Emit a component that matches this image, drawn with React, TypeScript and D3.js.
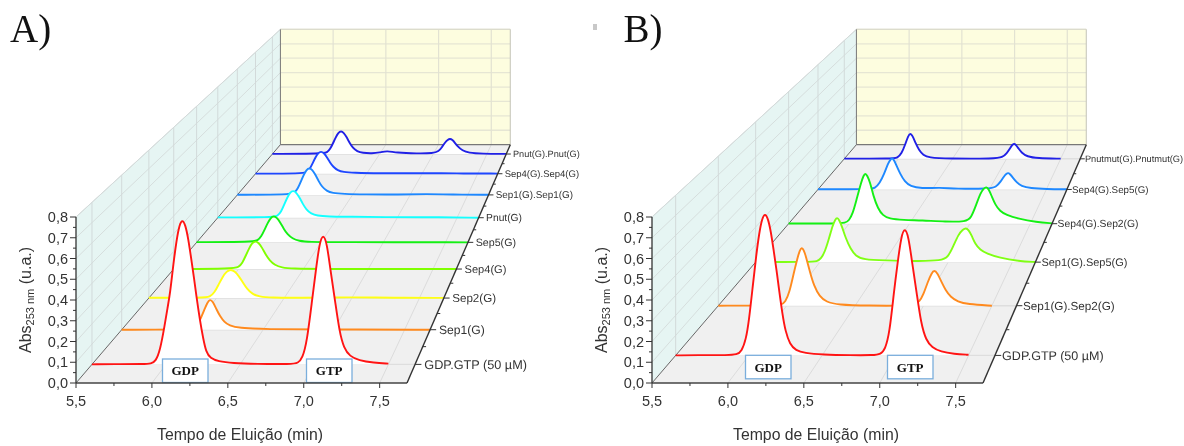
import React from 'react';
import * as d3 from 'd3';

type Pt = [number, number];
type Series = { name: string; color: string; points: Pt[] };

// values: [time in min, absorbance above the trace baseline]
const gdpGtpA: Pt[] = [[5.5,0],[5.7,.002],[5.85,.001],[5.9,.004],[5.93,.015],[5.96,.07],[5.99,.19],[6.01,.28],[6.027,.35],[6.05,.5],[6.07,.61],[6.09,.69],[6.11,.715],[6.13,.69],[6.15,.62],[6.17,.52],[6.19,.42],[6.202,.35],[6.23,.21],[6.25,.13],[6.27,.06],[6.3,.03],[6.35,.015],[6.45,.006],[6.6,.002],[6.85,.001],[6.89,.006],[6.92,.03],[6.95,.11],[6.985,.316],[7.01,.46],[7.035,.6],[7.06,.645],[7.085,.6],[7.11,.46],[7.14,.316],[7.17,.16],[7.2,.08],[7.24,.04],[7.3,.02],[7.4,.008],[7.5,.004]];
const sep1A: Pt[] = [[5.5,0],[5.95,.001],[6,.004],[6.03,.018],[6.06,.06],[6.085,.105],[6.105,.14],[6.124,.158],[6.145,.145],[6.17,.105],[6.195,.07],[6.225,.04],[6.26,.022],[6.33,.009],[6.5,.002],[7,.001],[7.68,0]];
const sep2A: Pt[] = [[5.5,.002],[5.91,.001],[5.95,.006],[5.985,.03],[6.015,.072],[6.045,.115],[6.075,.145],[6.105,.155],[6.135,.145],[6.165,.119],[6.195,.084],[6.225,.05],[6.265,.021],[6.315,.008],[6.4,.002],[6.6,.001],[7,.005],[7.3,.001],[7.68,.001]];
const sep4A: Pt[] = [[5.5,0],[5.96,.002],[6,.01],[6.03,.035],[6.055,.075],[6.08,.115],[6.105,.148],[6.13,.158],[6.155,.148],[6.18,.122],[6.21,.08],[6.24,.048],[6.28,.022],[6.33,.008],[6.42,.002],[6.6,0],[7.68,0]];
const sep5A: Pt[] = [[5.5,.001],[5.95,.002],[5.99,.01],[6.02,.035],[6.045,.073],[6.07,.113],[6.095,.145],[6.12,.155],[6.145,.145],[6.17,.12],[6.2,.079],[6.23,.047],[6.27,.022],[6.32,.008],[6.41,.002],[6.6,.001],[7.68,0]];
const pnutA: Pt[] = [[5.5,.002],[5.96,.002],[6,.011],[6.03,.037],[6.055,.08],[6.08,.122],[6.105,.155],[6.13,.166],[6.155,.155],[6.18,.128],[6.21,.085],[6.24,.05],[6.28,.024],[6.33,.012],[6.42,.007],[6.6,.006],[6.9,.003],[7.2,.004],[7.68,0]];
const sep1Sep1A: Pt[] = [[5.5,.001],[5.955,.002],[5.995,.012],[6.025,.04],[6.05,.083],[6.075,.126],[6.1,.16],[6.125,.171],[6.15,.16],[6.175,.132],[6.205,.088],[6.235,.052],[6.275,.025],[6.325,.012],[6.42,.006],[6.6,.003],[6.9,.002],[7.15,.006],[7.35,.002],[7.68,.001]];
const sep4Sep4A: Pt[] = [[5.5,.001],[5.92,.001],[5.96,.009],[5.99,.032],[6.015,.07],[6.04,.108],[6.065,.137],[6.09,.147],[6.115,.137],[6.14,.113],[6.17,.075],[6.2,.045],[6.24,.022],[6.29,.011],[6.38,.006],[6.6,.002],[7,.004],[7.3,.002],[7.68,.001]];
const pnutPnutA: Pt[] = [[5.5,.001],[5.97,.002],[6.01,.01],[6.04,.035],[6.065,.073],[6.09,.113],[6.115,.146],[6.14,.157],[6.165,.146],[6.19,.118],[6.22,.076],[6.25,.042],[6.29,.018],[6.34,.007],[6.43,.004],[6.5,.01],[6.57,.022],[6.65,.009],[6.85,.003],[7,.005],[7.05,.018],[7.08,.045],[7.11,.08],[7.135,.098],[7.156,.105],[7.178,.097],[7.2,.078],[7.23,.05],[7.27,.024],[7.33,.008],[7.45,.002],[7.68,.001]];

const gdpGtpB: Pt[] = [[5.5,0],[5.7,.002],[5.85,.001],[5.92,.004],[5.95,.02],[5.98,.08],[6,.17],[6.027,.35],[6.05,.5],[6.07,.61],[6.09,.685],[6.11,.71],[6.13,.685],[6.15,.62],[6.17,.52],[6.19,.42],[6.202,.35],[6.23,.2],[6.25,.12],[6.28,.055],[6.32,.025],[6.38,.012],[6.5,.004],[6.7,.001],[6.85,.001],[6.9,.006],[6.93,.03],[6.96,.11],[6.99,.316],[7.015,.46],[7.04,.595],[7.064,.64],[7.09,.595],[7.115,.46],[7.145,.316],[7.175,.16],[7.21,.075],[7.25,.04],[7.31,.018],[7.4,.007],[7.5,.003]];
const sep1Sep2B: Pt[] = [[5.5,0],[5.9,.001],[5.96,.004],[5.99,.02],[6.02,.07],[6.05,.17],[6.08,.258],[6.095,.296],[6.11,.312],[6.125,.298],[6.14,.266],[6.17,.18],[6.2,.105],[6.24,.05],[6.29,.02],[6.37,.005],[6.6,0],[6.85,0],[6.93,.004],[6.97,.02],[7,.06],[7.03,.125],[7.06,.176],[7.08,.19],[7.1,.176],[7.13,.13],[7.16,.085],[7.2,.045],[7.25,.022],[7.32,.008],[7.5,0]];
const sep1Sep5B: Pt[] = [[5.5,.001],[5.92,.001],[5.98,.004],[6.01,.02],[6.04,.06],[6.07,.13],[6.1,.21],[6.12,.243],[6.135,.255],[6.15,.243],[6.175,.2],[6.2,.14],[6.24,.075],[6.28,.035],[6.34,.015],[6.5,.01],[6.75,.006],[6.95,.008],[7,.03],[7.04,.09],[7.08,.158],[7.115,.186],[7.14,.196],[7.16,.183],[7.185,.15],[7.21,.105],[7.25,.07],[7.3,.05],[7.4,.025],[7.55,.006],[7.68,.001]];
const sep4Sep2B: Pt[] = [[5.5,.001],[5.9,.001],[5.97,.004],[6,.02],[6.03,.06],[6.06,.14],[6.1,.25],[6.12,.292],[6.135,.306],[6.15,.292],[6.175,.25],[6.2,.17],[6.24,.09],[6.28,.05],[6.33,.03],[6.45,.022],[6.6,.02],[6.8,.012],[6.97,.012],[7.01,.035],[7.05,.11],[7.09,.19],[7.115,.213],[7.136,.223],[7.155,.21],[7.18,.168],[7.21,.115],[7.25,.075],[7.3,.053],[7.4,.03],[7.55,.01],[7.68,.002]];
const sep4Sep5B: Pt[] = [[5.5,.001],[5.95,.001],[6,.008],[6.04,.04],[6.08,.1],[6.115,.17],[6.135,.192],[6.15,.202],[6.165,.19],[6.19,.15],[6.22,.1],[6.26,.05],[6.31,.02],[6.4,.006],[6.57,.013],[6.7,.004],[7,.004],[7.06,.015],[7.1,.05],[7.13,.085],[7.15,.1],[7.165,.107],[7.18,.1],[7.205,.078],[7.24,.045],[7.28,.022],[7.36,.008],[7.5,.002],[7.68,.001]];
const pnutmutB: Pt[] = [[5.5,.001],[5.95,.001],[5.99,.006],[6.03,.035],[6.065,.1],[6.09,.155],[6.11,.174],[6.13,.158],[6.16,.105],[6.19,.06],[6.23,.025],[6.28,.008],[6.45,.001],[6.9,.001],[6.96,.01],[7,.035],[7.035,.075],[7.055,.096],[7.07,.103],[7.085,.096],[7.11,.07],[7.14,.04],[7.19,.015],[7.28,.004],[7.5,.001]];

const seriesA: Series[] = [
  { name: 'GDP.GTP (50 µM)', color: '#ff1414', points: gdpGtpA },
  { name: 'Sep1(G)', color: '#ff8a1e', points: sep1A },
  { name: 'Sep2(G)', color: '#ffff14', points: sep2A },
  { name: 'Sep4(G)', color: '#80ff00', points: sep4A },
  { name: 'Sep5(G)', color: '#14f014', points: sep5A },
  { name: 'Pnut(G)', color: '#14ffff', points: pnutA },
  { name: 'Sep1(G).Sep1(G)', color: '#1e88ff', points: sep1Sep1A },
  { name: 'Sep4(G).Sep4(G)', color: '#1e46ff', points: sep4Sep4A },
  { name: 'Pnut(G).Pnut(G)', color: '#2020e6', points: pnutPnutA },
];
const seriesB: Series[] = [
  { name: 'GDP.GTP (50 µM)', color: '#ff1414', points: gdpGtpB },
  { name: 'Sep1(G).Sep2(G)', color: '#ff8a1e', points: sep1Sep2B },
  { name: 'Sep1(G).Sep5(G)', color: '#80ff14', points: sep1Sep5B },
  { name: 'Sep4(G).Sep2(G)', color: '#14f014', points: sep4Sep2B },
  { name: 'Sep4(G).Sep5(G)', color: '#1e88ff', points: sep4Sep5B },
  { name: 'Pnutmut(G).Pnutmut(G)', color: '#2020e6', points: pnutmutB },
];

const xTicks = [5.5, 6, 6.5, 7, 7.5];
const xMinorTicks = [5.75, 6.25, 6.75, 7.25];
const yTicks = [0, 0.1, 0.2, 0.3, 0.4, 0.5, 0.6, 0.7, 0.8];
const yMinorTicks = [0.05, 0.15, 0.25, 0.35, 0.45, 0.55, 0.65, 0.75];

const TIME_MIN = 5.5;
const TIME_MAX = 7.68;
const ABS_MAX = 0.8;

const x = d3.scaleLinear().domain([TIME_MIN, TIME_MAX]).range([76, 407]);
const y = d3.scaleLinear().domain([0, ABS_MAX]).range([383, 217]);

// Origin-style 3D waterfall: everything shrinks towards one vanishing point with depth
const VX = 745;
const VY = -397;
const PERSP = 0.44;
const shrink = (d: number) => 1 / (1 + PERSP * d);
const px = (t: number, d: number) => VX + (x(t) - VX) * shrink(d);
const py = (v: number, d: number) => VY + (y(v) - VY) * shrink(d);
const pt = (t: number, v: number, d: number) => `${px(t, d)},${py(v, d)}`;

const comma = (v: number) => d3.format('.1f')(v).replace('.', ',');
const SANS = '"Liberation Sans", Arial, sans-serif';
const SERIF = '"Liberation Serif", "Times New Roman", serif';

const Seg = ({ a, b, stroke, w = 1 }: { a: [number, number, number]; b: [number, number, number]; stroke: string; w?: number }) => (
  <line x1={px(a[0], a[2])} y1={py(a[1], a[2])} x2={px(b[0], b[2])} y2={py(b[1], b[2])} stroke={stroke} strokeWidth={w} />
);

const Panel = ({ series, letter, letterX, dx, boxes, labelShift = 0, mark }: {
  series: Series[];
  letter: string;
  letterX: number;
  dx: number;
  boxes: { label: string; left: number; top: number }[];
  labelShift?: number;
  mark?: boolean;
}) => {
  const z = d3.scaleBand<string>().domain(series.map(s => s.name)).range([0, 1]);
  const depth = (name: string) => (z(name) as number) + z.bandwidth() / 2;
  const edges = d3.range(1, series.length).map(i => i / series.length);

  return (
    <g transform={`translate(${dx},0)`}>
      <text x={letterX} y={42} fontFamily={SERIF} fontSize={39} fill="#111">{letter}</text>
      {mark && <rect x={17} y={24} width={4} height={6} fill="#c8c8c8" />}

      {/* walls and floor */}
      <polygon fill="#e6f5f3" points={[pt(TIME_MIN, 0, 0), pt(TIME_MIN, ABS_MAX, 0), pt(TIME_MIN, ABS_MAX, 1), pt(TIME_MIN, 0, 1)].join(' ')} />
      <polygon fill="#fdfddf" points={[pt(TIME_MIN, 0, 1), pt(TIME_MIN, ABS_MAX, 1), pt(TIME_MAX, ABS_MAX, 1), pt(TIME_MAX, 0, 1)].join(' ')} />
      <polygon fill="#f0f0f0" points={[pt(TIME_MIN, 0, 0), pt(TIME_MAX, 0, 0), pt(TIME_MAX, 0, 1), pt(TIME_MIN, 0, 1)].join(' ')} />

      {yTicks.slice(1).map(v => (
        <g key={v}>
          <Seg a={[TIME_MIN, v, 0]} b={[TIME_MIN, v, 1]} stroke="#d6dedd" />
          <Seg a={[TIME_MIN, v, 1]} b={[TIME_MAX, v, 1]} stroke="#e6e6d4" w={1.3} />
        </g>
      ))}
      {series.map(s => (
        <g key={s.name}>
          <Seg a={[TIME_MIN, 0, depth(s.name)]} b={[TIME_MIN, ABS_MAX, depth(s.name)]} stroke="#d2dada" />
          <Seg a={[TIME_MIN, 0, depth(s.name)]} b={[TIME_MAX, 0, depth(s.name)]} stroke="#dedede" w={1.4} />
        </g>
      ))}
      {xTicks.slice(1).map(t => (
        <g key={t}>
          <Seg a={[t, 0, 0]} b={[t, 0, 1]} stroke="#dcdcdc" />
          <Seg a={[t, 0, 1]} b={[t, ABS_MAX, 1]} stroke="#e2e2d2" w={1.2} />
        </g>
      ))}
      <Seg a={[TIME_MIN, ABS_MAX, 0]} b={[TIME_MIN, ABS_MAX, 1]} stroke="#d4dada" />
      <Seg a={[TIME_MIN, ABS_MAX, 1]} b={[TIME_MAX, ABS_MAX, 1]} stroke="#dcdccc" w={1.2} />
      <Seg a={[TIME_MAX, ABS_MAX, 1]} b={[TIME_MAX, 0, 1]} stroke="#c4c4b8" />
      <Seg a={[TIME_MIN, 0, 1]} b={[TIME_MIN, ABS_MAX, 1]} stroke="#777" />
      <Seg a={[TIME_MIN, 0, 1]} b={[TIME_MAX, 0, 1]} stroke="#777" w={1.2} />
      <Seg a={[TIME_MIN, 0, 0]} b={[TIME_MIN, 0, 1]} stroke="#666" />

      {/* traces, back to front, each hiding what is behind it */}
      {[...series].reverse().map(s => {
        const d = depth(s.name);
        const area = d3.area<Pt>().x(p => px(p[0], d)).y0(py(0, d)).y1(p => py(p[1], d)).curve(d3.curveBasis);
        const line = d3.line<Pt>().x(p => px(p[0], d)).y(p => py(p[1], d)).curve(d3.curveBasis);
        return (
          <g key={s.name}>
            <path d={area(s.points) as string} fill="#fff" />
            <path d={line(s.points) as string} fill="none" stroke={s.color} strokeWidth={1.9} strokeLinejoin="round" />
          </g>
        );
      })}

      {boxes.map(b => (
        <g key={b.label}>
          <rect x={b.left} y={b.top} width={45.5} height={23.5} fill="#fff" stroke="#7aaedc" strokeWidth={1.3} />
          <text x={b.left + 22.7} y={b.top + 16.3} textAnchor="middle" fontFamily={SERIF} fontWeight="bold" fontSize={13} fill="#111">{b.label}</text>
        </g>
      ))}

      {/* axes */}
      <line x1={x(TIME_MIN)} x2={x(TIME_MAX)} y1={y(0)} y2={y(0)} stroke="#444" strokeWidth={1.5} />
      <line x1={x(TIME_MIN)} x2={x(TIME_MIN)} y1={y(0)} y2={y(ABS_MAX)} stroke="#333" strokeWidth={1.3} />
      <Seg a={[TIME_MAX, 0, 0]} b={[TIME_MAX, 0, 1]} stroke="#333" w={1.4} />

      {xTicks.map(t => (
        <g key={t}>
          <line x1={x(t)} x2={x(t)} y1={y(0)} y2={y(0) + 5} stroke="#333" />
          <text x={x(t)} y={406} textAnchor="middle" fontFamily={SANS} fontSize={14.5} fill="#333">{comma(t)}</text>
        </g>
      ))}
      {xMinorTicks.map(t => <line key={t} x1={x(t)} x2={x(t)} y1={y(0)} y2={y(0) + 3} stroke="#333" />)}

      {yTicks.map(v => (
        <g key={v}>
          <line x1={x(TIME_MIN) - 6} x2={x(TIME_MIN)} y1={y(v)} y2={y(v)} stroke="#333" />
          <text x={68} y={y(v) + 5} textAnchor="end" fontFamily={SANS} fontSize={14.5} fill="#333">{comma(v)}</text>
        </g>
      ))}
      {yMinorTicks.map(v => <line key={v} x1={x(TIME_MIN) - 3} x2={x(TIME_MIN)} y1={y(v)} y2={y(v)} stroke="#333" />)}

      {edges.map(d => (
        <line key={d} x1={px(TIME_MAX, d)} x2={px(TIME_MAX, d) + 3.5 * shrink(d)} y1={py(0, d)} y2={py(0, d)} stroke="#333" />
      ))}
      {series.map(s => {
        const d = depth(s.name);
        const fs = 13 * shrink(d);
        return (
          <g key={s.name}>
            <line x1={px(TIME_MAX, d)} x2={px(TIME_MAX, d) + 6.5 * shrink(d)} y1={py(0, d)} y2={py(0, d)} stroke="#333" />
            <text x={px(TIME_MAX, d) + 9.5 * shrink(d) + labelShift} y={py(0, d) + fs * 0.36} fontFamily={SANS} fontSize={fs} textRendering="geometricPrecision" fill="#333">{s.name}</text>
          </g>
        );
      })}

      <text x={157} y={440} fontFamily={SANS} fontSize={15.8} fill="#333">Tempo de Eluição (min)</text>
      <text transform="translate(31,353) rotate(-90)" fontFamily={SANS} fontSize={16} fill="#333">
        Abs<tspan fontSize={11} dy={3}>253 nm</tspan><tspan dy={-3}> (u.a.)</tspan>
      </text>
    </g>
  );
};

export default function App() {
  return (
    <svg width={1184} height={446} style={{ position: 'absolute', left: 0, top: 0, background: '#fff', filter: 'blur(0.35px)' }}>
      <Panel
        series={seriesA}
        letter="A)"
        letterX={10}
        dx={0}
        boxes={[{ label: 'GDP', left: 162.5, top: 359 }, { label: 'GTP', left: 306.5, top: 359 }]}
      />
      <Panel
        series={seriesB}
        letter="B)"
        letterX={47.5}
        dx={576}
        labelShift={-2}
        boxes={[{ label: 'GDP', left: 169.5, top: 355.3 }, { label: 'GTP', left: 311.5, top: 355.3 }]}
        mark
      />
    </svg>
  );
}
